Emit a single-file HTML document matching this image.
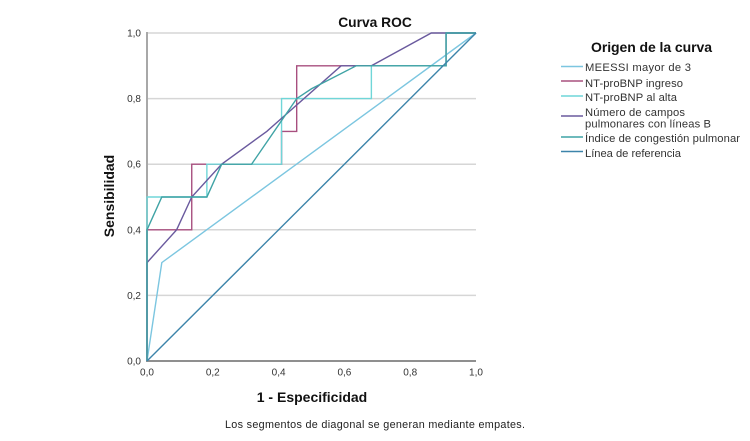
<!DOCTYPE html>
<html lang="es">
<head>
<meta charset="utf-8">
<title>Curva ROC</title>
<style>
html,body{margin:0;padding:0;background:#fff;}
body{width:750px;height:441px;overflow:hidden;}
svg{display:block;font-family:"Liberation Sans",sans-serif;}
</style>
</head>
<body>
<svg id="chart" xmlns="http://www.w3.org/2000/svg" width="750" height="441" viewBox="0 0 750 441">
  <rect x="0" y="0" width="750" height="441" fill="#ffffff"/>
  <text x="375" y="27" text-anchor="middle" font-size="13.8" font-weight="bold" fill="#111">Curva ROC</text>
  <g id="grid"></g>
  <g id="axes"></g>
  <g id="series" filter="url(#soft)"></g>
  <text transform="translate(114,196) rotate(-90)" text-anchor="middle" font-size="14" font-weight="bold" fill="#111">Sensibilidad</text>
  <text x="312" y="402" text-anchor="middle" font-size="14" font-weight="bold" fill="#111">1 - Especificidad</text>
  <text x="225" y="428" font-size="10.8" textLength="300" lengthAdjust="spacing" fill="#222">Los segmentos de diagonal se generan mediante empates.</text>
  <g id="legend">
    <text x="591" y="52" font-size="14" font-weight="bold" textLength="121" lengthAdjust="spacing" fill="#111">Origen de la curva</text>
  </g>
  <defs>
    <filter id="soft" x="-5%" y="-5%" width="110%" height="110%"><feGaussianBlur stdDeviation="0.25"/></filter>
  </defs>
</svg>
<script>
const axisTicks = [0, 0.2, 0.4, 0.6, 0.8, 1];
const tickLabels = ["0,0", "0,2", "0,4", "0,6", "0,8", "1,0"];

const meessiX = [0, 0.045, 1];
const meessiY = [0, 0.3, 1];
const ingresoX = [0, 0, 0.136, 0.136, 0.409, 0.409, 0.455, 0.455, 0.909, 0.909, 1];
const ingresoY = [0, 0.4, 0.4, 0.6, 0.6, 0.7, 0.7, 0.9, 0.9, 1, 1];
const altaX = [0, 0, 0.182, 0.182, 0.409, 0.409, 0.682, 0.682, 0.909, 0.909, 1];
const altaY = [0, 0.5, 0.5, 0.6, 0.6, 0.8, 0.8, 0.9, 0.9, 1, 1];
const camposX = [0, 0, 0.09, 0.136, 0.227, 0.364, 0.59, 0.682, 0.864, 1];
const camposY = [0, 0.3, 0.4, 0.5, 0.6, 0.7, 0.9, 0.9, 1, 1];
const indiceX = [0, 0, 0.045, 0.182, 0.227, 0.318, 0.455, 0.5, 0.636, 0.909, 0.909, 1];
const indiceY = [0, 0.4, 0.5, 0.5, 0.6, 0.6, 0.8, 0.83, 0.9, 0.9, 1, 1];
const referenciaX = [0, 1];
const referenciaY = [0, 1];

const NS = "http://www.w3.org/2000/svg";
const sx = function (v) { return 147 + v * 329; };
const sy = function (v) { return 361 - v * 328; };

function make(parent, tag, attrs, text) {
  const el = document.createElementNS(NS, tag);
  Object.keys(attrs).forEach(function (k) { el.setAttribute(k, attrs[k]); });
  if (text !== undefined) { el.textContent = text; }
  parent.appendChild(el);
  return el;
}

const gridG = document.getElementById("grid");
const axesG = document.getElementById("axes");
const seriesG = document.getElementById("series");
const legendG = document.getElementById("legend");

axisTicks.forEach(function (t, i) {
  if (t > 0) {
    const g = make(gridG, "line", { x1: sx(0), x2: sx(1), y1: sy(t), y2: sy(t), stroke: "#d6d6d6", "stroke-width": 1.5 });
    
    
  }
  const yl = make(axesG, "text", { x: 141, y: sy(t) + 3.5, "text-anchor": "end", "font-size": 10, fill: "#333" }, tickLabels[i]);
  
  
  const xl = make(axesG, "text", { x: sx(t), y: 375.5, "text-anchor": "middle", "font-size": 10, fill: "#333" }, tickLabels[i]);
  
  
});

const yAxis = make(axesG, "line", { x1: sx(0), x2: sx(0), y1: sy(1) - 1, y2: sy(0) + 1, stroke: "#a8a8a8", "stroke-width": 2 });


const xAxis = make(axesG, "line", { x1: sx(0) - 1, x2: sx(1), y1: sy(0), y2: sy(0), stroke: "#8f8f8f", "stroke-width": 2 });



function drawCurve(xs, ys, color, name) {
  const pts = xs.map(function (x, i) { return sx(x).toFixed(2) + "," + sy(ys[i]).toFixed(2); }).join(" ");
  const line = make(seriesG, "polyline", { points: pts, fill: "none", stroke: color, "stroke-width": 1.4, "stroke-linejoin": "miter" });
  
  
}

drawCurve(meessiX, meessiY, "#7cc6e0", "curve-meessi");
drawCurve(ingresoX, ingresoY, "#a8507f", "curve-ntprobnp-ingreso");
drawCurve(altaX, altaY, "#6fd6d8", "curve-ntprobnp-alta");
drawCurve(camposX, camposY, "#6a5a9e", "curve-campos-pulmonares");
drawCurve(indiceX, indiceY, "#3fa3a5", "curve-indice-congestion");
drawCurve(referenciaX, referenciaY, "#3c84aa", "curve-linea-referencia");

function legendEntry(y, color, labels, labelY, width, name) {
  const swatch = make(legendG, "line", { x1: 561, x2: 583, y1: y, y2: y, stroke: color, "stroke-width": 1.4 });
  
  
  labels.forEach(function (label, i) {
    const t = make(legendG, "text", { x: 585, y: labelY + i * 11.7, "font-size": 11.2, fill: "#333", textLength: width[i], lengthAdjust: "spacing" }, label);
    
    
  });
}

legendEntry(66.5, "#7cc6e0", ["MEESSI mayor de 3"], 71, [106], "legend-meessi");
legendEntry(81, "#a8507f", ["NT-proBNP ingreso"], 87, [98], "legend-ntprobnp-ingreso");
legendEntry(96, "#6fd6d8", ["NT-proBNP al alta"], 101, [92], "legend-ntprobnp-alta");
legendEntry(116, "#6a5a9e", ["Número de campos", "pulmonares con líneas B"], 116, [100, 126], "legend-campos-pulmonares");
legendEntry(137, "#3fa3a5", ["Índice de congestión pulmonar"], 142, [155], "legend-indice-congestion");
legendEntry(151.5, "#3c84aa", ["Línea de referencia"], 157, [96], "legend-linea-referencia");
</script>
</body>
</html>
